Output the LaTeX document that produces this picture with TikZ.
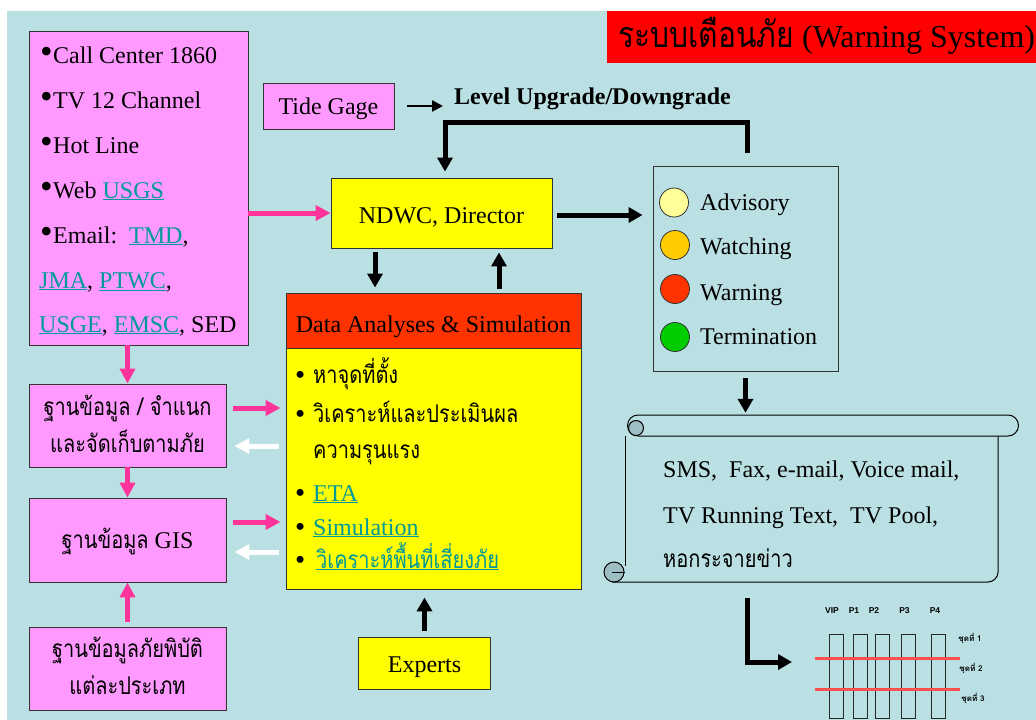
\documentclass[tikz,border=0pt]{standalone}
\usepackage{fontspec}
\usepackage{graphicx}
\setmainfont{Liberation Serif}
\newfontfamily\thai[Script=Thai]{Loma}
\newfontfamily\arialf{Liberation Sans}
\usetikzlibrary{arrows.meta,calc}
\definecolor{bg}{HTML}{BBE0E3}
\definecolor{pinkbox}{HTML}{FF99FF}
\definecolor{pinkarr}{HTML}{FF3399}
\definecolor{ylw}{HTML}{FFFF00}
\definecolor{hdr}{HTML}{FF3300}
\definecolor{ttl}{HTML}{FF0000}
\definecolor{linkc}{HTML}{009999}
\definecolor{cadv}{HTML}{FFFF99}
\definecolor{cwat}{HTML}{FFCC00}
\definecolor{cwar}{HTML}{FF3300}
\definecolor{cter}{HTML}{00CC00}
\definecolor{curlc}{HTML}{9DBFC4}
\definecolor{redline}{HTML}{FF5050}
\newcommand\mylink[1]{\textcolor{linkc}{\underline{#1}}}
\newcommand\lbul{\makebox[13pt][l]{{\fontsize{36}{36}\selectfont •}}}
\newcommand\dbul{\makebox[15pt][l]{\hspace{-3pt}\raisebox{-1pt}{\fontsize{29}{29}\selectfont •}}}
\newcommand\thaisz{\fontsize{20}{20}\selectfont}
\newcommand\tht[1]{\scalebox{1}[1.22]{\thai\thaisz #1}}
\begin{document}
\begin{tikzpicture}[x=1pt,y=-1pt,
  bx/.style={draw=black!80, line width=0.9pt, inner sep=0pt, align=center},
  pbox/.style={bx, fill=pinkbox},
  ybox/.style={bx, fill=ylw},
  txt/.style={inner sep=0pt, anchor=base west, font=\fontsize{24}{24}\selectfont},
  ctr/.style={inner sep=0pt, anchor=base, font=\fontsize{24}{24}\selectfont},
  ctxt/.style={inner sep=0pt, anchor=base, font=\fontsize{24}{24}\selectfont},
  parr/.style={draw=pinkarr, line width=5pt, -{Triangle[length=15pt,width=15pt]}},
  warr/.style={draw=white, line width=5pt, -{Triangle[length=15pt,width=15pt]}},
  barr/.style={draw=black, line width=5pt, -{Triangle[length=14pt,width=15pt]}},
  circ/.style={circle, draw=black!80, line width=0.8pt, minimum size=29pt, inner sep=0pt},
  colbox/.style={draw=black!85, line width=1pt, minimum width=14pt, minimum height=84pt, inner sep=0pt},
  chl/.style={inner sep=0pt, anchor=base, font=\arialf\bfseries\fontsize{8.5}{9}\selectfont},
  chth/.style={inner sep=0pt, font=\thai\bfseries\fontsize{8}{8}\selectfont},
]
\useasboundingbox (0,0) rectangle (1036,720);
\fill[white] (0,0) rectangle (1036,720);
\fill[bg] (7,11) rectangle (1036,720);

% title
\node[fill=ttl, minimum width=429pt, minimum height=52pt, inner sep=0pt] (title) at (821.5,37) {};
\node[inner sep=0pt, anchor=base west, font=\fontsize{32}{32}\selectfont] (titletxt) at (618,47) {\scalebox{1}[1.2]{\thai\fontsize{30}{30}\selectfont ระบบเตือนภัย} (Warning System)};

% source box
\node[pbox, minimum width=219pt, minimum height=314pt] (src) at (138.5,188) {};
\node[txt] (s1) at (40,63) {\lbul Call Center 1860};
\node[txt] (s2) at (40,108) {\lbul TV 12 Channel};
\node[txt] (s3) at (40,153) {\lbul Hot Line};
\node[txt] (s4) at (40,198) {\lbul Web \mylink{USGS}};
\node[txt] (s5) at (40,243) {\lbul Email:\ \ \mylink{TMD},};
\node[txt] (s6) at (39,288) {\mylink{JMA}, \mylink{PTWC},};
\node[txt] (s7) at (39,332) {\mylink{USGE}, \mylink{EMSC}, SED};

% tide gage + label
\node[pbox, minimum width=131pt, minimum height=46pt] (tide) at (328.5,106) {};
\node[ctr] (tidet) at (328.5,114) {Tide Gage};
\node[inner sep=0pt, anchor=base west, font=\bfseries\fontsize{24}{24}\selectfont] (lvl) at (454,104) {Level Upgrade/Downgrade};
\draw[line width=2.5pt, -{Triangle[length=11pt,width=11pt]}] ($(tide.east)+(13,0)$) -- ($(lvl.west |- tide.east)+(-11,0)$);

% NDWC
\node[ybox, minimum width=221pt, minimum height=70pt] (ndwc) at (441.5,213) {};
\node[ctr] (ndwct) at (441.5,223) {NDWC, Director};

% alert box
\node[bx, fill=bg, minimum width=185pt, minimum height=205pt] (alert) at (745.5,268.5) {};
\node[circ, fill=cadv] (c1) at (674,202.5) {};
\node[circ, fill=cwat] (c2) at (675,245) {};
\node[circ, fill=cwar] (c3) at (675,289) {};
\node[circ, fill=cter] (c4) at (675,337) {};
\node[txt] (a1) at (700,210) {Advisory};
\node[txt] (a2) at (700,254) {Watching};
\node[txt] (a3) at (700,300) {Warning};
\node[txt] (a4) at (700,344) {Termination};

% feedback
\coordinate (fbc) at (445,122);
\draw[barr] ($(alert.north)+(1.5,-13)$) |- (fbc) -- ($(ndwc.north)+(3.5,-6)$);
\draw[parr] (src.east |- ndwc.west) -- (ndwc.west);
\draw[barr] ($(ndwc.east)+(5,2)$) -- ($(ndwc.east -| alert.west)+(-10,2)$);

% data analyses
\node[bx, fill=hdr, minimum width=295pt, minimum height=55pt] (dhead) at (433.5,320.5) {};
\node[ctr] (dheadt) at (433.5,332) {Data Analyses \& Simulation};
\node[ybox, minimum width=295pt, minimum height=241pt] (dbody) at (433.5,468.5) {};
\node[txt] (d1) at (298,383) {\dbul\tht{หาจุดที่ตั้ง}};
\node[txt] (d2) at (298,422) {\dbul\tht{วิเคราะห์และประเมินผล}};
\node[txt] (d3) at (313,458) {\tht{ความรุนแรง}};
\node[txt] (d4) at (298,501) {\dbul\mylink{ETA}};
\node[txt] (d5) at (298,535) {\dbul\mylink{Simulation}};
\node[txt] (d6) at (298,568) {\dbul\hspace{3pt}\mylink{\tht{วิเคราะห์พื้นที่เสี่ยงภัย}}};

\draw[barr] ($(ndwc.south)+(-66.5,4)$) -- ($(ndwc.south |- dhead.north)+(-66.5,-5)$);
\draw[barr] ($(ndwc.south |- dhead.north)+(57.5,-4)$) -- ($(ndwc.south)+(57.5,4)$);

% experts
\node[ybox, minimum width=132pt, minimum height=52pt] (experts) at (424.5,663) {};
\node[ctr] (expertst) at (424.5,672) {Experts};
\draw[barr] ($(experts.north)+(0,-6)$) -- ($(experts.north |- dbody.south)+(0,8)$);

% left databases
\node[pbox, minimum width=197pt, minimum height=83pt] (db1) at (127.5,425.5) {};
\node[ctxt] (db1a) at (127.5,415) {\tht{ฐานข้อมูล / จำแนก}};
\node[ctxt] (db1b) at (127.5,452) {\tht{และจัดเก็บตามภัย}};
\node[pbox, minimum width=197pt, minimum height=84pt] (db2) at (127.5,540) {};
\node[ctxt] (db2a) at (127.5,548) {\tht{ฐานข้อมูล}\ GIS};
\node[pbox, minimum width=197pt, minimum height=83pt] (db3) at (127.5,668.5) {};
\node[ctxt] (db3a) at (127.5,657) {\tht{ฐานข้อมูลภัยพิบัติ}};
\node[ctxt] (db3b) at (127.5,694) {\tht{แต่ละประเภท}};

\draw[parr] (db1.north |- src.south) -- (db1.north);
\draw[parr] (db1.south) -- (db2.north);
\draw[parr] ($(db3.north)+(0,-5)$) -- (db2.south);
\draw[parr] ($(db1.east)+(7,-17.5)$) -- ($(db1.east -| dbody.west)+(-5,-17.5)$);
\draw[warr] ($(db1.east -| dbody.west)+(-7,20.5)$) -- ($(db1.east)+(8,20.5)$);
\draw[parr] ($(db2.east)+(7,-18)$) -- ($(db2.east -| dbody.west)+(-5,-18)$);
\draw[warr] ($(db2.east -| dbody.west)+(-7,12)$) -- ($(db2.east)+(8,12)$);

% scroll
\node[minimum width=415pt, minimum height=168pt, inner sep=0pt] (scroll) at (812.5,499) {};
\begin{scope}[draw=black, line width=1pt]
  \draw (625,436) -- (625,566);
  \draw (612,582) -- (988,582) arc[start angle=90, end angle=0, radius=10] -- (998,436);
  \draw (638,415) -- (1008,415) arc[start angle=-90, end angle=90, radius=10.5] -- (638,436);
  \draw (638,415) arc[start angle=-90, end angle=-270, radius=10.5];
  \draw[fill=curlc] (636,428) circle[radius=7.5];
  \draw[fill=curlc] (614,572) circle[radius=10];
  \draw (612,572) -- (625,572);
\end{scope}
\node[txt] (sc1) at (663,477) {SMS,\ \ Fax, e-mail, Voice mail,};
\node[txt] (sc2) at (663,523) {TV Running Text,\ \ TV Pool,};
\node[txt] (sc3) at (663,567) {\tht{หอกระจายข่าว}};
\draw[barr] ($(alert.south)+(0,7)$) -- ($(alert.south |- scroll.north)+(0,-2)$);

% chart
\coordinate (chartin) at (792,662);
\draw[barr] ($(alert.south |- scroll.south)+(1.5,15)$) |- (chartin);
\node[chl] (vip) at (832,613) {VIP};
\node[chl] (p1) at (854,613) {P1};
\node[chl] (p2) at (874,613) {P2};
\node[chl] (p3) at (904.5,613) {P3};
\node[chl] (p4) at (935,613) {P4};
\node[colbox] (k0) at (836,676) {};
\node[colbox] (k1) at (860,676) {};
\node[colbox] (k2) at (882,676) {};
\node[colbox] (k3) at (908.5,676) {};
\node[colbox] (k4) at (938.5,676) {};
\coordinate (r2a) at (815,658); \coordinate (r2b) at (960,658);
\coordinate (r3a) at (815,689); \coordinate (r3b) at (960,689);
\draw[redline, line width=3pt] (r2a) -- (r2b);
\draw[redline, line width=3pt] (r3a) -- (r3b);
\node[chth] (g1) at (970,638) {ชุดที่ 1};
\node[chth] (g2) at (971,668) {ชุดที่ 2};
\node[chth] (g3) at (973,698) {ชุดที่ 3};
\end{tikzpicture}
\end{document}
